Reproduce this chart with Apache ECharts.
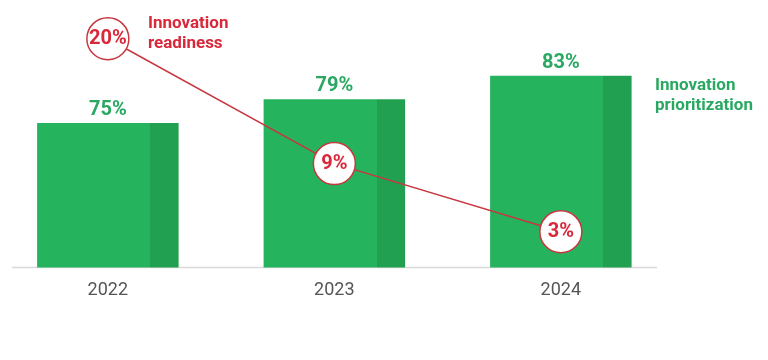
<!DOCTYPE html>
<html><head><meta charset="utf-8">
<script src="https://cdn.jsdelivr.net/npm/echarts@6/dist/echarts.min.js"></script>
<style>html,body{margin:0;padding:0;background:#fff}#c{width:768px;height:360px}</style>
</head><body><div id="c"></div>
<script>
const categories = ['2022', '2023', '2024'];
const prioritization = [75, 79, 83];
const readiness = [20, 9, 3];
const seriesNames = ['Innovation\nprioritization', 'Innovation\nreadiness'];

const GREEN = '#25b35e', GREEN_DARK = '#22a052', GREEN_TEXT = '#2aa862', RED = '#d8283a', RED_LINE = '#c8363f';
const FONT = 'Roboto, "Open Sans", sans-serif';

const chart = echarts.init(document.getElementById('c'), null, {renderer: 'canvas'});
chart.setOption({
  animation: false,
  backgroundColor: '#fff',
  grid: {left: -5.4, right: 93.9, top: 20, bottom: 92.5, containLabel: false, outerBoundsMode: 'none'},
  xAxis: {
    type: 'category', data: categories, boundaryGap: true,
    axisLine: {show: false}, axisTick: {show: false},
    axisLabel: {color: '#555', fontSize: 18, fontFamily: FONT, margin: 14}
  },
  yAxis: [
    {type: 'value', min: 50.4, max: 92.5, show: false, splitLine: {show: false}},
    {type: 'value', min: -0.15, max: 21.65, show: false, splitLine: {show: false}}
  ],
  graphic: [
    {type: 'line', shape: {x1: 12, y1: 267.5, x2: 657, y2: 267.5}, style: {stroke: '#d9d9d9', lineWidth: 1.5}, z: 1},
    {type: 'text', left: 148, top: 14, style: {text: seriesNames[1], fill: RED, font: 'bold 17px ' + FONT, lineHeight: 20}},
    {type: 'text', left: 655, top: 76, style: {text: seriesNames[0], fill: GREEN_TEXT, font: 'bold 17px ' + FONT, lineHeight: 20}}
  ],
  series: [
    {
      name: seriesNames[0], type: 'bar', data: prioritization, yAxisIndex: 0, barWidth: 141.5, z: 2,
      itemStyle: {
        color: new echarts.graphic.LinearGradient(0, 0, 1, 0, [
          {offset: 0, color: GREEN}, {offset: 0.8, color: GREEN},
          {offset: 0.8, color: GREEN_DARK}, {offset: 1, color: GREEN_DARK}
        ])
      },
      label: {show: true, position: 'top', distance: 3, formatter: '{c}%', color: GREEN_TEXT, fontSize: 20, fontWeight: 'bold', fontFamily: FONT}
    },
    {
      name: seriesNames[1], type: 'line', data: readiness, yAxisIndex: 1, z: 5,
      lineStyle: {color: RED_LINE, width: 1.5},
      symbol: 'circle', symbolSize: 42,
      itemStyle: {color: '#fff', borderColor: RED_LINE, borderWidth: 1.5},
      label: {show: true, position: 'inside', formatter: '{c}%', color: RED, fontSize: 20, fontWeight: 'bold', fontFamily: FONT}
    }
  ]
});
</script></body></html>
